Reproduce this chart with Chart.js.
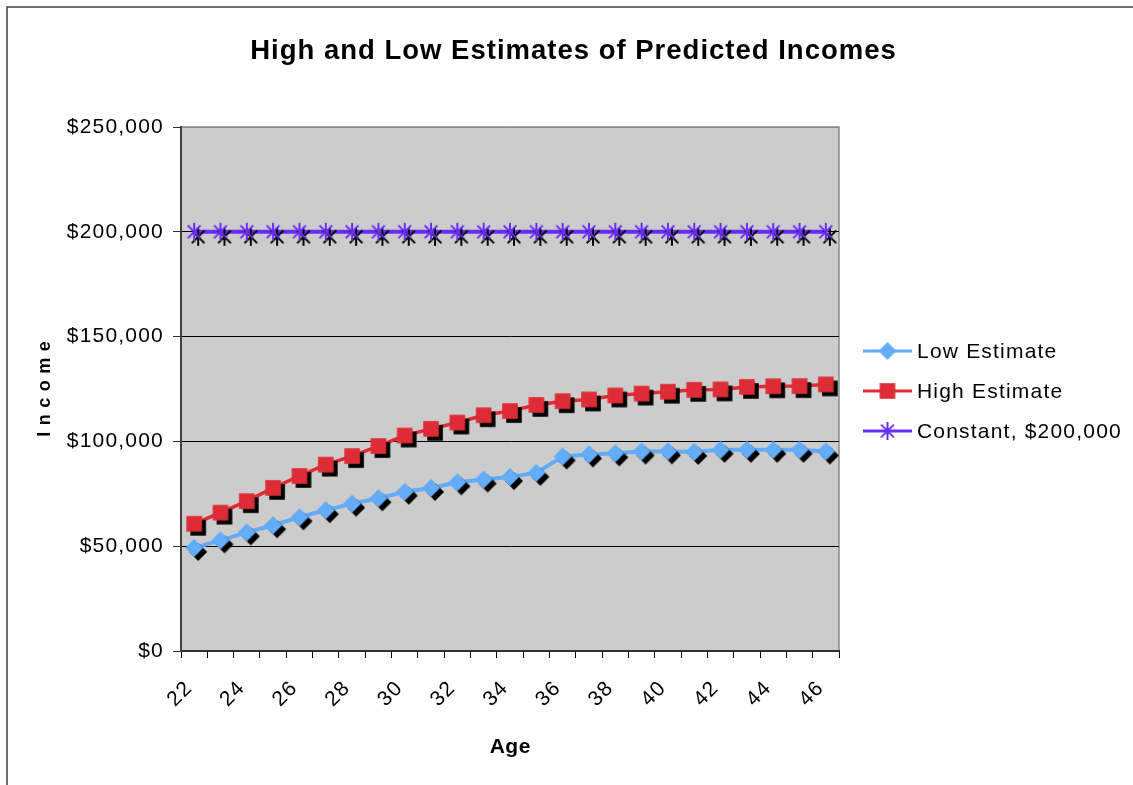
<!DOCTYPE html>
<html>
<head>
<meta charset="utf-8">
<title>High and Low Estimates of Predicted Incomes</title>
<script src="https://cdn.jsdelivr.net/npm/chart.js@4.4.1/dist/chart.umd.min.js"></script>
<style>
  html, body { margin: 0; padding: 0; background: #ffffff; }
  canvas { display: block; }
</style>
</head>
<body>
<canvas id="chart" width="1133" height="785"></canvas>
<script>
// Ages on the category axis
const ages = ['22','23','24','25','26','27','28','29','30','31','32','33','34','35','36','37','38','39','40','41','42','43','44','45','46'];

// Predicted yearly income, low case
const lowEstimate = [49200, 52800, 56600, 60000, 63800, 67200, 70300, 72900, 76000, 77800, 80500, 81800, 83000, 85000, 92800, 93800, 94300, 95200, 95300, 95000, 96000, 96000, 96000, 96000, 95200];

// Predicted yearly income, high case
const highEstimate = [60700, 66000, 71500, 77800, 83500, 88900, 93000, 97800, 102800, 106000, 109000, 112500, 114500, 117400, 119200, 120000, 121900, 122800, 123700, 124600, 124800, 126000, 126300, 126400, 127200];

// Flat reference income
const constantIncome = [200000, 200000, 200000, 200000, 200000, 200000, 200000, 200000, 200000, 200000, 200000, 200000, 200000, 200000, 200000, 200000, 200000, 200000, 200000, 200000, 200000, 200000, 200000, 200000, 200000];

const seriesNames = ['Low Estimate', 'High Estimate', 'Constant, $200,000'];

// Income axis ticks
const incomeTicks = [0, 50000, 100000, 150000, 200000, 250000];

const COLORS = { low: '#62acfa', high: '#dd2c35', constant: '#6a2cf5' };
const FONT = '"Liberation Sans", Arial, sans-serif';

// Marker sprites: a shape plus an optional offset black drop shadow
function drawShape(g, kind, cx, cy, color) {
  g.fillStyle = color;
  g.strokeStyle = color;
  if (kind === 'diamond') {
    const r = 9;
    g.beginPath();
    g.moveTo(cx, cy - r);
    g.lineTo(cx + r, cy);
    g.lineTo(cx, cy + r);
    g.lineTo(cx - r, cy);
    g.closePath();
    g.fill();
  } else if (kind === 'square') {
    const h = 7.8;
    g.fillRect(cx - h, cy - h, 2 * h, 2 * h);
  } else if (kind === 'star') {
    const r = 9;
    g.lineWidth = 2;
    g.beginPath();
    g.moveTo(cx, cy - r); g.lineTo(cx, cy + r);
    const d = r * Math.SQRT1_2;
    g.moveTo(cx - d, cy - d); g.lineTo(cx + d, cy + d);
    g.moveTo(cx - d, cy + d); g.lineTo(cx + d, cy - d);
    g.stroke();
  }
}

function makeMarker(kind, color, shadow) {
  const size = 36;
  const c = document.createElement('canvas');
  c.width = size; c.height = size;
  const g = c.getContext('2d');
  if (shadow) {
    const dy = kind === 'star' ? 5 : 4;
    drawShape(g, kind, size / 2 + 4, size / 2 + dy, '#000000');
  }
  drawShape(g, kind, size / 2, size / 2, color);
  return c;
}

const markers = {
  low: makeMarker('diamond', COLORS.low, true),
  high: makeMarker('square', COLORS.high, true),
  constant: makeMarker('star', COLORS.constant, true)
};
const legendMarkers = [
  makeMarker('diamond', COLORS.low, false),
  makeMarker('square', COLORS.high, false),
  makeMarker('star', COLORS.constant, false)
];
const legendColors = [COLORS.low, COLORS.high, COLORS.constant];

function spacedText(ctx, text, x, y, spacing, align) {
  ctx.letterSpacing = spacing + 'px';
  const w = ctx.measureText(text).width - spacing;
  let sx = x;
  if (align === 'center') sx = x - w / 2;
  else if (align === 'right') sx = x - w;
  ctx.textAlign = 'left';
  ctx.fillText(text, sx, y);
  ctx.letterSpacing = '0px';
}

// Backdrop, outer frame and plot panel
const panelPlugin = {
  id: 'panel',
  beforeDraw(chart) {
    const ctx = chart.ctx;
    const a = chart.chartArea;
    ctx.save();
    ctx.fillStyle = '#ffffff';
    ctx.fillRect(0, 0, chart.width, chart.height);
    ctx.strokeStyle = '#404040';
    ctx.lineWidth = 1.5;
    ctx.beginPath();
    ctx.moveTo(7, chart.height + 5);
    ctx.lineTo(7, 7);
    ctx.lineTo(chart.width + 5, 7);
    ctx.stroke();
    ctx.fillStyle = '#cccccc';
    ctx.fillRect(a.left, a.top, a.right - a.left, a.bottom - a.top);
    ctx.strokeStyle = '#8a8a8a';
    ctx.lineWidth = 1.5;
    ctx.strokeRect(a.left, a.top, a.right - a.left, a.bottom - a.top);
    ctx.restore();
    // tick labels are drawn with a little tracking
    ctx.letterSpacing = '1.2px';
  },
  beforeDatasetsDraw(chart) {
    chart.ctx.letterSpacing = '0px';
  },
  afterDraw(chart) {
    const ctx = chart.ctx;
    const a = chart.chartArea;
    ctx.save();
    ctx.fillStyle = '#000000';
    ctx.textBaseline = 'alphabetic';

    // title
    ctx.font = 'bold 27.5px ' + FONT;
    spacedText(ctx, 'High and Low Estimates of Predicted Incomes', 573, 59, 1.0, 'center');

    // x axis title
    ctx.font = 'bold 21px ' + FONT;
    spacedText(ctx, 'Age', (a.left + a.right) / 2, 753, 0.5, 'center');

    // y axis title
    ctx.save();
    ctx.translate(50, (a.top + a.bottom) / 2);
    ctx.rotate(-Math.PI / 2);
    ctx.font = 'bold 18px ' + FONT;
    spacedText(ctx, 'Income', 0, 0, 6.5, 'center');
    ctx.restore();

    // legend
    const rows = [351, 391, 431];
    ctx.font = '21px ' + FONT;
    ctx.textBaseline = 'middle';
    seriesNames.forEach((name, i) => {
      const y = rows[i];
      ctx.strokeStyle = legendColors[i];
      ctx.lineWidth = 3;
      ctx.beginPath();
      ctx.moveTo(863, y);
      ctx.lineTo(912, y);
      ctx.stroke();
      const m = legendMarkers[i];
      ctx.drawImage(m, 887.5 - m.width / 2, y - m.height / 2);
      ctx.fillStyle = '#000000';
      spacedText(ctx, name, 917, y + 1, 1.2, 'left');
    });
    ctx.restore();
  }
};

new Chart(document.getElementById('chart'), {
  type: 'line',
  data: {
    labels: ages,
    datasets: [
      {
        label: seriesNames[0],
        data: lowEstimate,
        borderColor: COLORS.low,
        backgroundColor: COLORS.low,
        borderWidth: 4,
        pointStyle: markers.low,
        tension: 0
      },
      {
        label: seriesNames[1],
        data: highEstimate,
        borderColor: COLORS.high,
        backgroundColor: COLORS.high,
        borderWidth: 3.5,
        pointStyle: markers.high,
        tension: 0
      },
      {
        label: seriesNames[2],
        data: constantIncome,
        borderColor: COLORS.constant,
        backgroundColor: COLORS.constant,
        borderWidth: 4,
        pointStyle: markers.constant,
        tension: 0
      }
    ]
  },
  options: {
    responsive: false,
    animation: false,
    events: [],
    layout: { padding: { left: 0, top: 127, right: 294, bottom: 0 } },
    plugins: {
      legend: { display: false },
      title: { display: false },
      tooltip: { enabled: false }
    },
    scales: {
      x: {
        type: 'category',
        offset: true,
        afterFit(scale) { scale.height = 134; },
        grid: {
          offset: true,
          drawOnChartArea: false,
          drawTicks: true,
          tickLength: 7,
          tickColor: '#000000',
          tickWidth: 1
        },
        border: { display: true, color: '#303030', width: 2 },
        ticks: {
          autoSkip: false,
          minRotation: 45,
          maxRotation: 45,
          padding: 18,
          labelOffset: -5,
          color: '#000000',
          font: { family: FONT, size: 21 },
          callback(value, index) {
            return index % 2 === 0 ? ages[index] : '';
          }
        }
      },
      y: {
        min: 0,
        max: 250000,
        afterFit(scale) { scale.width = 181; },
        afterBuildTicks(scale) {
          scale.ticks = incomeTicks.map(v => ({ value: v }));
        },
        grid: {
          color: (c) => (c.tick && c.tick.value === 250000 ? '#8a8a8a' : '#000000'),
          lineWidth: 1,
          drawTicks: true,
          tickLength: 8,
          tickColor: '#303030'
        },
        border: { display: true, color: '#404040', width: 2 },
        ticks: {
          padding: 9,
          color: '#000000',
          font: { family: FONT, size: 21 },
          callback(value) {
            return '$' + Number(value).toLocaleString('en-US');
          }
        }
      }
    }
  },
  plugins: [panelPlugin]
});
</script>
</body>
</html>
